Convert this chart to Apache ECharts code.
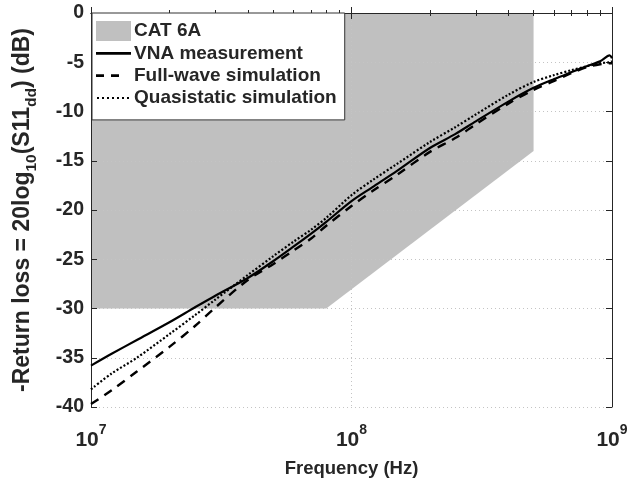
<!DOCTYPE html>
<html>
<head>
<meta charset="utf-8">
<script src="https://cdn.jsdelivr.net/npm/echarts@6/dist/echarts.min.js"></script>
<style>
html,body{margin:0;padding:0;background:#fff;}
#c{width:638px;height:483px;}
</style>
</head>
<body>
<div id="c"></div>
<script>
// Frequencies (Hz)
var freqs = [1e7, 1.2e7, 1.5e7, 2e7, 2.5e7, 3e7, 4e7, 5e7, 6e7, 7e7, 8e7, 1e8, 1.2e8, 1.5e8, 2e8, 2.5e8, 3e8, 4e8, 5e8, 6e8, 7e8, 8e8, 9e8, 9.8e8, 1e9];
var vna = [-35.8, -34.6, -33.2, -31.4, -29.9, -28.7, -26.9, -25.2, -23.7, -22.4, -21.2, -19.1, -17.7, -16.0, -13.7, -12.3, -11.0, -9.0, -7.6, -6.7, -6.0, -5.4, -4.9, -4.3, -4.6];
var fullwave = [-39.7, -38.3, -36.4, -33.9, -31.8, -29.9, -27.1, -25.5, -24.1, -22.9, -21.6, -19.6, -18.1, -16.4, -14.1, -12.7, -11.3, -9.2, -7.8, -6.9, -6.1, -5.5, -5.2, -5.1, -5.1];
var quasistatic = [-38.2, -36.6, -35.0, -32.6, -30.7, -29.1, -26.6, -24.7, -23.2, -22.0, -20.8, -18.5, -17.0, -15.3, -13.1, -11.6, -10.3, -8.3, -7.0, -6.3, -5.8, -5.4, -5.1, -5.0, -4.9];
// CAT 6A limit region (boundary; filled up to 0 dB)
var cat6aFreq = [1e7, 8e7, 5e8, 5e8];
var cat6aDb = [-30, -30, -14, 0];
var xTicksMajor = [1e7, 1e8, 1e9];
var xTicksMinor = [2e7, 3e7, 4e7, 5e7, 6e7, 7e7, 8e7, 9e7, 2e8, 3e8, 4e8, 5e8, 6e8, 7e8, 8e8, 9e8];

function pairs(xs, ys){ return xs.map(function(x,i){return [x, ys[i]];}); }

var FONT = '"Liberation Sans", Arial, sans-serif';
var TXT = '#262626';
var BOX = 'M0,0L0,0ZM35,20L35,20Z';
var iconSolid = 'path://' + BOX + 'M0,8.6L35,8.6L35,11.4L0,11.4Z';
var iconDash = 'path://' + BOX + 'M0,8.6L8,8.6L8,11.4L0,11.4ZM15,8.6L23,8.6L23,11.4L15,11.4Z';
var dots = '';
for (var i = 0; i < 7; i++) { var x0 = 1 + i * 5; dots += 'M' + x0 + ',9L' + (x0 + 2) + ',9L' + (x0 + 2) + ',11L' + x0 + ',11Z'; }
var iconDot = 'path://' + BOX + dots;

var chart = echarts.init(document.getElementById('c'));
var option = {
  animation: false,
  backgroundColor: '#fff',
  textStyle: {fontFamily: FONT},
  grid: {left: 91, top: 13, width: 521, height: 395, containLabel: false},
  legend: {
    orient: 'vertical', left: 92, top: 13,
    padding: [8, 8, 12, 4], itemGap: 2.3, itemWidth: 35, itemHeight: 20,
    backgroundColor: '#fff', borderColor: '#333', borderWidth: 1,
    textStyle: {fontFamily: FONT, fontWeight: 'bold', fontSize: 19, color: TXT, lineHeight: 20, padding: [0,0,0,-2]},
    data: [
      {name: 'CAT 6A', icon: 'rect', itemStyle: {color: '#c0c0c0', borderWidth: 0}},
      {name: 'VNA measurement', icon: iconSolid, itemStyle: {color: '#000', borderWidth: 0}, lineStyle: {width: 0}},
      {name: 'Full-wave simulation', icon: iconDash, itemStyle: {color: '#000', borderWidth: 0}, lineStyle: {width: 0}},
      {name: 'Quasistatic simulation', icon: iconDot, itemStyle: {color: '#000', borderWidth: 0}, lineStyle: {width: 0}}
    ]
  },
  xAxis: [
    {
      type: 'log', logBase: 10, min: 1e7, max: 1e9, position: 'bottom',
      axisLine: {show: true, lineStyle: {color: TXT, width: 1}},
      axisTick: {show: true, inside: true, length: 6, lineStyle: {color: TXT}, customValues: xTicksMajor},
      axisLabel: {
        show: true, margin: 16, customValues: xTicksMajor,
        formatter: function(v){ return '{b|10}{s|' + Math.round(Math.log10(v)) + '}'; },
        rich: {
          b: {fontFamily: FONT, fontWeight: 'bold', fontSize: 21, color: TXT, verticalAlign: 'bottom', lineHeight: 28},
          s: {fontFamily: FONT, fontWeight: 'bold', fontSize: 14, color: TXT, verticalAlign: 'top', lineHeight: 28}
        }
      },
      splitLine: {show: true, lineStyle: {color: '#c4c4c4', type: [1, 3], width: 1}},
      minorTick: {show: false},
      name: 'Frequency (Hz)', nameLocation: 'middle', nameGap: 52,
      nameTextStyle: {fontFamily: FONT, fontWeight: 'bold', fontSize: 18.5, color: TXT}
    },
    {
      type: 'log', logBase: 10, min: 1e7, max: 1e9, position: 'bottom', gridIndex: 0,
      axisLine: {show: false},
      axisTick: {show: true, inside: true, length: 3, lineStyle: {color: TXT}, customValues: xTicksMinor},
      axisLabel: {show: false}, splitLine: {show: false}
    },
    {
      type: 'log', logBase: 10, min: 1e7, max: 1e9, position: 'top', gridIndex: 0,
      axisLine: {show: true, lineStyle: {color: TXT, width: 1}},
      axisTick: {show: true, inside: true, length: 6, lineStyle: {color: TXT}, customValues: xTicksMajor},
      axisLabel: {show: false}, splitLine: {show: false}
    },
    {
      type: 'log', logBase: 10, min: 1e7, max: 1e9, position: 'top', gridIndex: 0,
      axisLine: {show: false},
      axisTick: {show: true, inside: true, length: 3, lineStyle: {color: TXT}, customValues: xTicksMinor},
      axisLabel: {show: false}, splitLine: {show: false}
    }
  ],
  yAxis: [
    {
      type: 'value', min: -40, max: 0, interval: 5, position: 'left',
      axisLine: {show: true, lineStyle: {color: TXT, width: 1}},
      axisTick: {show: true, inside: true, length: 6, lineStyle: {color: TXT}},
      axisLabel: {margin: 7, fontFamily: FONT, fontWeight: 'bold', fontSize: 19.5, color: TXT,
        formatter: function(v){ return String(v); }},
      splitLine: {show: true, lineStyle: {color: '#c4c4c4', type: [1, 3], width: 1}},
      name: '{b|-Return loss = 20log}{sub|10}{b|(S11}{sub|dd}{b|) (dB)}',
      nameLocation: 'middle', nameGap: 51, nameRotate: 90,
      nameTextStyle: {
        rich: {
          b: {fontFamily: FONT, fontWeight: 'bold', fontSize: 23, color: TXT, verticalAlign: 'top', lineHeight: 29},
          sub: {fontFamily: FONT, fontWeight: 'bold', fontSize: 15.5, color: TXT, verticalAlign: 'bottom', lineHeight: 29}
        }
      }
    },
    {
      type: 'value', min: -40, max: 0, interval: 5, position: 'right', gridIndex: 0,
      axisLine: {show: true, lineStyle: {color: TXT, width: 1}},
      axisTick: {show: true, inside: true, length: 6, lineStyle: {color: TXT}},
      axisLabel: {show: false}, splitLine: {show: false}
    }
  ],
  series: [
    {
      name: 'CAT 6A', type: 'line', z: -1, silent: true,
      data: pairs(cat6aFreq, cat6aDb), symbol: 'none',
      lineStyle: {width: 0, color: '#c0c0c0'},
      itemStyle: {color: '#c0c0c0'},
      areaStyle: {color: '#c0c0c0', opacity: 1, origin: 'end'}
    },
    {
      name: 'VNA measurement', type: 'line', smooth: 0.3, symbol: 'none',
      data: pairs(freqs, vna), itemStyle: {color: '#000'},
      lineStyle: {color: '#000', width: 2.2}
    },
    {
      name: 'Full-wave simulation', type: 'line', smooth: 0.3, symbol: 'none',
      data: pairs(freqs, fullwave), itemStyle: {color: '#000'},
      lineStyle: {color: '#000', width: 2.4, type: [9, 7]}
    },
    {
      name: 'Quasistatic simulation', type: 'line', smooth: 0.3, symbol: 'none',
      data: pairs(freqs, quasistatic), itemStyle: {color: '#000'},
      lineStyle: {color: '#000', width: 2.2, type: [2, 2]}
    }
  ]
};
chart.setOption(option);
</script>
</body>
</html>
